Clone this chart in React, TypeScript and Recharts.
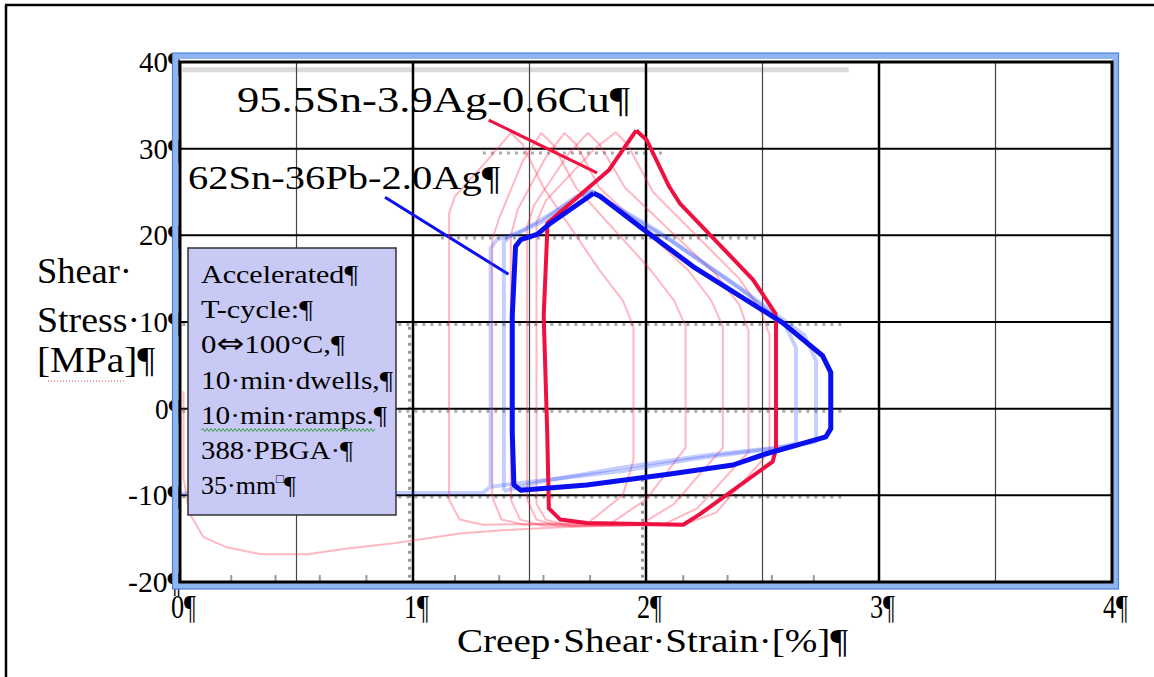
import React from 'react';
import { ScatterChart, Scatter, XAxis, YAxis, ReferenceLine } from 'recharts';

const SERIF = '"Liberation Serif", "Times New Roman", serif';

// axis setup
const xTicks = [0, 1, 2, 3, 4];
const yTicks = [-20, -10, 0, 10, 20, 30, 40];
const xMajorGrid = [1, 2, 3];
const xMinorGrid = [0.5, 1.5, 2.5, 3.5];
const yGrid = [-10, 0, 10, 20, 30];
const faintBottomTicks = [0.22, 0.41, 0.6, 0.8, 1.18, 1.37, 1.56, 1.76, 2.16, 2.35, 2.54, 2.72];

// 95.5Sn-3.9Ag-0.6Cu, stabilised hysteresis loop
const snAgCuLoop = [
  { x: 1.958, y: 32.1 }, { x: 1.84, y: 27.5 }, { x: 1.576, y: 21.4 }, { x: 1.576, y: 20.3 },
  { x: 1.561, y: 10.7 }, { x: 1.576, y: -2.7 }, { x: 1.583, y: -11.5 }, { x: 1.632, y: -12.8 },
  { x: 1.746, y: -13.2 }, { x: 2.16, y: -13.4 }, { x: 2.23, y: -12.2 }, { x: 2.544, y: -6.1 },
  { x: 2.558, y: -4.6 }, { x: 2.558, y: 10.3 }, { x: 2.555, y: 11.0 }, { x: 2.459, y: 14.9 },
  { x: 2.145, y: 23.7 }, { x: 2.1, y: 25.6 }, { x: 2.003, y: 31.0 }, { x: 1.958, y: 32.1 },
];

// 62Sn-36Pb-2.0Ag, stabilised hysteresis loop
const snPbAgLoop = [
  { x: 1.775, y: 24.85 }, { x: 1.59, y: 21.4 }, { x: 1.533, y: 20.1 }, { x: 1.462, y: 19.5 },
  { x: 1.44, y: 18.7 }, { x: 1.426, y: 10.7 }, { x: 1.426, y: -2.7 }, { x: 1.433, y: -8.8 },
  { x: 1.462, y: -9.4 }, { x: 1.746, y: -8.8 }, { x: 2.088, y: -7.6 }, { x: 2.373, y: -6.5 },
  { x: 2.516, y: -5.2 }, { x: 2.772, y: -3.25 }, { x: 2.793, y: -2.3 }, { x: 2.793, y: 4.2 },
  { x: 2.758, y: 6.1 }, { x: 2.587, y: 9.9 }, { x: 2.202, y: 16.4 }, { x: 1.974, y: 21.0 },
  { x: 1.803, y: 24.5 }, { x: 1.775, y: 24.85 },
];

// earlier SnAgCu cycles
const snAgCuStart = [
  { x: 0.015, y: 2 }, { x: 0.015, y: -8 }, { x: 0.04, y: -12 }, { x: 0.1, y: -14.8 },
  { x: 0.2, y: -16 }, { x: 0.35, y: -16.8 }, { x: 0.55, y: -16.8 }, { x: 0.7, y: -16.2 },
  { x: 0.9, y: -15.6 }, { x: 1.05, y: -15.0 }, { x: 1.2, y: -14.4 }, { x: 1.4, y: -14.0 },
  { x: 1.7, y: -13.6 }, { x: 2.0, y: -13.4 },
];
const snAgCuCycle1 = [
  { x: 1.155, y: -10.5 }, { x: 1.155, y: 22.5 }, { x: 1.18, y: 24.5 }, { x: 1.33, y: 29 },
  { x: 1.42, y: 31.8 }, { x: 1.47, y: 30.5 }, { x: 1.56, y: 25.5 }, { x: 1.8, y: 16 },
  { x: 1.9, y: 12.5 }, { x: 1.946, y: 9.5 }, { x: 1.946, y: -6 }, { x: 1.9, y: -10 },
  { x: 1.75, y: -13.2 }, { x: 1.3, y: -13.4 }, { x: 1.2, y: -12.8 }, { x: 1.155, y: -10.5 },
];
const snAgCuCycle2 = [
  { x: 1.34, y: -10.2 }, { x: 1.34, y: 19.5 }, { x: 1.37, y: 22 }, { x: 1.47, y: 28.5 },
  { x: 1.55, y: 31.8 }, { x: 1.6, y: 30.5 }, { x: 1.7, y: 25.5 }, { x: 2.02, y: 16 },
  { x: 2.12, y: 12.5 }, { x: 2.17, y: 9.5 }, { x: 2.17, y: -4.5 }, { x: 2.0, y: -10.5 },
  { x: 1.85, y: -13.2 }, { x: 1.48, y: -13.4 }, { x: 1.38, y: -12.8 }, { x: 1.34, y: -10.2 },
];
const snAgCuCycle3 = [
  { x: 1.42, y: -10.5 }, { x: 1.42, y: 20 }, { x: 1.45, y: 23 }, { x: 1.57, y: 29 },
  { x: 1.65, y: 31.8 }, { x: 1.7, y: 30.5 }, { x: 1.8, y: 25.5 }, { x: 2.18, y: 16 },
  { x: 2.28, y: 12.5 }, { x: 2.33, y: 9.5 }, { x: 2.33, y: -4.5 }, { x: 2.12, y: -11 },
  { x: 1.98, y: -13.3 }, { x: 1.56, y: -13.5 }, { x: 1.46, y: -12.8 }, { x: 1.42, y: -10.5 },
];
const snAgCuCycle4 = [
  { x: 1.49, y: -10.5 }, { x: 1.49, y: 21 }, { x: 1.52, y: 23.5 }, { x: 1.67, y: 29.5 },
  { x: 1.75, y: 31.8 }, { x: 1.8, y: 30.5 }, { x: 1.91, y: 25.5 }, { x: 2.3, y: 15.5 },
  { x: 2.4, y: 12 }, { x: 2.44, y: 9 }, { x: 2.44, y: -5 }, { x: 2.22, y: -11.5 },
  { x: 2.08, y: -13.3 }, { x: 1.62, y: -13.5 }, { x: 1.53, y: -12.8 }, { x: 1.49, y: -10.5 },
];
const snAgCuCycle5 = [
  { x: 1.53, y: -11 }, { x: 1.53, y: 21.5 }, { x: 1.57, y: 24 }, { x: 1.78, y: 30 },
  { x: 1.87, y: 31.9 }, { x: 1.92, y: 30.5 }, { x: 2.03, y: 25 }, { x: 2.4, y: 15 },
  { x: 2.49, y: 11.5 }, { x: 2.53, y: 8.5 }, { x: 2.53, y: -5 }, { x: 2.3, y: -12 },
  { x: 2.16, y: -13.4 }, { x: 1.68, y: -13.6 }, { x: 1.57, y: -12.8 }, { x: 1.53, y: -11 },
];

// earlier SnPbAg cycles
const snPbAgCycle1 = [
  { x: 0, y: -9.8 }, { x: 1.3, y: -9.7 }, { x: 1.333, y: -9.0 }, { x: 1.333, y: 18.5 },
  { x: 1.36, y: 19.5 }, { x: 1.45, y: 20.2 }, { x: 1.58, y: 22.3 }, { x: 1.76, y: 25.2 },
  { x: 1.83, y: 24 }, { x: 2.05, y: 20.5 }, { x: 2.4, y: 14 }, { x: 2.6, y: 9.5 },
  { x: 2.644, y: 7 }, { x: 2.644, y: -4 }, { x: 2.55, y: -4.6 }, { x: 2.2, y: -5.8 },
  { x: 1.9, y: -7.2 }, { x: 1.55, y: -8.3 }, { x: 1.333, y: -9.0 },
];
const snPbAgCycle2 = [
  { x: 1.39, y: -9.5 }, { x: 1.39, y: 19.2 }, { x: 1.42, y: 20 }, { x: 1.55, y: 21.5 },
  { x: 1.7, y: 24.5 }, { x: 1.77, y: 25 }, { x: 1.85, y: 23.5 }, { x: 2.1, y: 19.5 },
  { x: 2.45, y: 13 }, { x: 2.68, y: 8.5 }, { x: 2.73, y: 5.5 }, { x: 2.73, y: -3.8 },
  { x: 2.6, y: -4.4 }, { x: 2.25, y: -5.4 }, { x: 1.9, y: -6.8 }, { x: 1.55, y: -8.4 },
  { x: 1.42, y: -9.3 }, { x: 1.39, y: -9.5 },
];

const faintRed = [snAgCuStart, snAgCuCycle1, snAgCuCycle2, snAgCuCycle3, snAgCuCycle4, snAgCuCycle5];
const faintBlue = [snPbAgCycle1, snPbAgCycle2];

const boxLines = [
  { text: 'Accelerated¶', len: 157 },
  { text: 'T-cycle:¶', len: 112 },
  { text: '0⇔100°C,¶', len: 144 },
  { text: '10·min·dwells,¶', len: 192 },
  { text: '10·min·ramps.¶', len: 186 },
  { text: '388·PBGA·¶', len: 152 },
];

const RED = '#ee1040';
const BLUE = '#0a0ff0';

const noDot = () => <g />;

const XTick = ({ x, y, payload }: any) => (
  <text
    x={x - 9}
    y={y + 36}
    fill="#000"
    style={{ fontFamily: SERIF, fontSize: '33px' }}
    textLength={25}
    lengthAdjust="spacingAndGlyphs"
  >
    {`${payload.value}¶`}
  </text>
);

// the pilcrow after each value tucks under the picture frame
const YTick = ({ x, y, payload }: any) => {
  const label = String(payload.value);
  const len = label.replace('-', '').length * 16 + (label.startsWith('-') ? 11 : 0) + 10;
  return (
    <text
      x={x + 1 - len}
      y={y + 10}
      fill="#000"
      style={{ fontFamily: SERIF, fontSize: '30px' }}
      textLength={len}
      lengthAdjust="spacingAndGlyphs"
    >
      {`${label}¶`}
    </text>
  );
};

function wavyPath(x0: number, x1: number, y: number) {
  let d = `M${x0},${y}`;
  let up = true;
  for (let x = x0 + 2; x <= x1; x += 2) {
    d += ` L${x},${y + (up ? -1.5 : 1.5)}`;
    up = !up;
  }
  return d;
}

function Overlay() {
  return (
    <svg
      width={1154}
      height={677}
      style={{ position: 'absolute', left: 0, top: 0, pointerEvents: 'none' }}
    >
      {/* page frame */}
      <line x1={5} y1={5} x2={1154} y2={5} stroke="#000" strokeWidth={2.5} />
      <line x1={6} y1={5} x2={6} y2={677} stroke="#000" strokeWidth={2.5} />

      {/* blue picture frame + plot border */}
      <rect x={175.5} y={56} width={940} height={530} fill="none" stroke="#8fb5ee" strokeWidth={6} />
      <rect x={172.5} y={53} width={946} height={536} fill="none" stroke="#4f80dc" strokeWidth={1.2} />
      <rect x={180} y={62} width={932} height={520} fill="none" stroke="#000" strokeWidth={3} />

      {/* series labels */}
      <text x={237} y={112} fontFamily={SERIF} fontSize={35} textLength={393} lengthAdjust="spacingAndGlyphs">
        95.5Sn-3.9Ag-0.6Cu¶
      </text>
      <text x={188} y={189} fontFamily={SERIF} fontSize={34} textLength={312} lengthAdjust="spacingAndGlyphs">
        62Sn-36Pb-2.0Ag¶
      </text>

      {/* test conditions */}
      <rect x={188} y={248} width={208} height={267} fill="#c9c9f6" stroke="#333" strokeWidth={1.5} />
      {boxLines.map((l, i) => (
        <text
          key={l.text}
          x={201}
          y={283 + i * 35.2}
          fontFamily={SERIF}
          fontSize={26}
          textLength={l.len}
          lengthAdjust="spacingAndGlyphs"
        >
          {l.text.includes('⇔') ? (
            <>
              <tspan>0</tspan>
              <tspan fontFamily='"DejaVu Sans", sans-serif' fontSize={28}>⇔</tspan>
              <tspan>100°C,¶</tspan>
            </>
          ) : (
            l.text
          )}
        </text>
      ))}
      <text x={201} y={494} fontFamily={SERIF} fontSize={26}>
        <tspan>35·mm</tspan>
        <tspan fontSize={13} dy={-11}>□</tspan>
        <tspan dy={11}>¶</tspan>
      </text>
      <path d={wavyPath(201, 375, 430)} fill="none" stroke="#3a9a3a" strokeWidth={1} />

      {/* axis titles */}
      <text x={37} y={283} fontFamily={SERIF} fontSize={36} textLength={95} lengthAdjust="spacingAndGlyphs">
        Shear·
      </text>
      <text x={37} y={332} fontFamily={SERIF} fontSize={36} textLength={103} lengthAdjust="spacingAndGlyphs">
        Stress·
      </text>
      <text x={37} y={372} fontFamily={SERIF} fontSize={36} textLength={118} lengthAdjust="spacingAndGlyphs">
        [MPa]¶
      </text>
      <line x1={48} y1={381} x2={126} y2={381} stroke="#e04848" strokeWidth={1} strokeDasharray="1 2" />
      <text x={457} y={652} fontFamily={SERIF} fontSize={34} textLength={391} lengthAdjust="spacingAndGlyphs">
        Creep·Shear·Strain·[%]¶
      </text>
    </svg>
  );
}

export default function App() {
  return (
    <div
      style={{
        position: 'absolute',
        left: 0,
        top: 0,
        width: 1154,
        height: 677,
        background: '#fff',
        overflow: 'hidden',
      }}
    >
      <ScatterChart width={1154} height={677} margin={{ top: 62, right: 42, bottom: 55, left: 120 }}>
        <XAxis
          type="number"
          dataKey="x"
          domain={[0, 4]}
          ticks={xTicks}
          tick={XTick}
          tickSize={0}
          tickMargin={0}
          axisLine={false}
          height={40}
          allowDataOverflow
        />
        <YAxis
          type="number"
          dataKey="y"
          domain={[-20, 40]}
          ticks={yTicks}
          tick={YTick}
          tickSize={0}
          tickMargin={0}
          axisLine={false}
          width={60}
          allowDataOverflow
        />

        {/* faint grid of the underlying plot */}
        <ReferenceLine segment={[{ x: 0.01, y: 39.1 }, { x: 2.87, y: 39.1 }]} stroke="#dadada" strokeWidth={5} />
        <ReferenceLine segment={[{ x: 1.3, y: 29.5 }, { x: 2.08, y: 29.5 }]} stroke="#aaa" strokeWidth={3} strokeDasharray="3 5" />
        <ReferenceLine segment={[{ x: 1.12, y: 19.7 }, { x: 2.5, y: 19.7 }]} stroke="#aaa" strokeWidth={3} strokeDasharray="3 5" />
        <ReferenceLine segment={[{ x: 0.01, y: 9.7 }, { x: 2.85, y: 9.7 }]} stroke="#aaa" strokeWidth={3} strokeDasharray="3 5" />
        <ReferenceLine segment={[{ x: 0.01, y: -0.3 }, { x: 2.85, y: -0.3 }]} stroke="#aaa" strokeWidth={3} strokeDasharray="3 5" />
        <ReferenceLine segment={[{ x: 0.01, y: -10.2 }, { x: 2.85, y: -10.2 }]} stroke="#aaa" strokeWidth={3} strokeDasharray="3 5" />
        <ReferenceLine segment={[{ x: 0.985, y: -19.5 }, { x: 0.985, y: 10 }]} stroke="#999" strokeWidth={3} strokeDasharray="3 5" />
        <ReferenceLine segment={[{ x: 1.985, y: -19.5 }, { x: 1.985, y: -8 }]} stroke="#999" strokeWidth={3} strokeDasharray="3 5" />
        {faintBottomTicks.map((t) => (
          <ReferenceLine key={`ft${t}`} segment={[{ x: t, y: -20 }, { x: t, y: -19.2 }]} stroke="#999" strokeWidth={2} />
        ))}

        {/* grid */}
        {xMinorGrid.map((v) => (
          <ReferenceLine key={`xm${v}`} x={v} stroke="#444" strokeWidth={1.2} />
        ))}
        {xMajorGrid.map((v) => (
          <ReferenceLine key={`xg${v}`} x={v} stroke="#000" strokeWidth={2.5} />
        ))}
        {yGrid.map((v) => (
          <ReferenceLine key={`yg${v}`} y={v} stroke="#000" strokeWidth={2} />
        ))}

        {/* earlier cycles */}
        {faintRed.map((d, i) => (
          <Scatter
            key={`fr${i}`}
            data={d}
            shape={noDot}
            line={{ stroke: '#ff3050', strokeWidth: 2, strokeOpacity: 0.35, strokeLinejoin: 'round' }}
            lineType="joint"
            isAnimationActive={false}
          />
        ))}
        {faintBlue.map((d, i) => (
          <Scatter
            key={`fb${i}`}
            data={d}
            shape={noDot}
            line={{ stroke: '#3050ff', strokeWidth: 4, strokeOpacity: 0.28, strokeLinejoin: 'round' }}
            lineType="joint"
            isAnimationActive={false}
          />
        ))}

        {/* stabilised loops */}
        <Scatter
          data={snAgCuLoop}
          shape={noDot}
          line={{ stroke: RED, strokeWidth: 4, strokeLinejoin: 'round' }}
          lineType="joint"
          isAnimationActive={false}
        />
        <Scatter
          data={snPbAgLoop}
          shape={noDot}
          line={{ stroke: BLUE, strokeWidth: 5, strokeLinejoin: 'round' }}
          lineType="joint"
          isAnimationActive={false}
        />

        {/* label leaders */}
        <ReferenceLine segment={[{ x: 1.325, y: 33.3 }, { x: 1.79, y: 27.2 }]} stroke={RED} strokeWidth={3} />
        <ReferenceLine segment={[{ x: 0.88, y: 24.4 }, { x: 1.41, y: 15.5 }]} stroke={BLUE} strokeWidth={3} />
      </ScatterChart>
      <Overlay />
    </div>
  );
}
